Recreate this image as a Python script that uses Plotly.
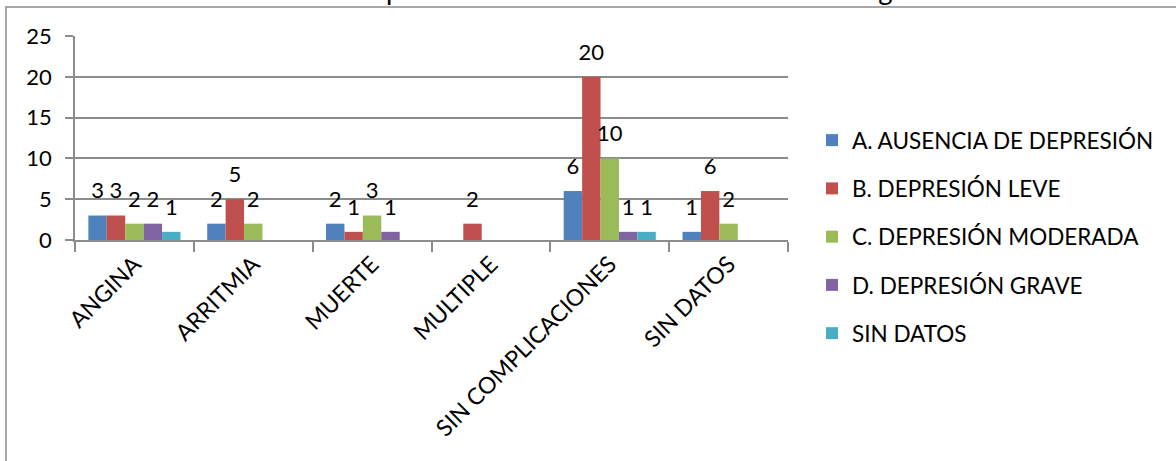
import plotly.graph_objects as go

# Complicaciones por nivel de depresión (escala de Zung)
categories = ["ANGINA", "ARRITMIA", "MUERTE", "MULTIPLE", "SIN COMPLICACIONES", "SIN DATOS"]
series_names = [
    "A. AUSENCIA DE DEPRESIÓN",
    "B. DEPRESIÓN LEVE",
    "C. DEPRESIÓN MODERADA",
    "D. DEPRESIÓN GRAVE",
    "SIN DATOS",
]
ausencia = [3, 2, 2, None, 6, 1]
leve = [3, 5, 1, 2, 20, 6]
moderada = [2, 2, 3, None, 10, 2]
grave = [2, None, 1, None, 1, None]
sin_datos = [1, None, None, None, 1, None]
series_values = [ausencia, leve, moderada, grave, sin_datos]
y_ticks = [0, 5, 10, 15, 20, 25]

colors = ["#4F81BD", "#C0504D", "#9BBB59", "#8064A2", "#4BACC6"]
FONT = "Lato"
TEXT = "#000000"
GRID = "#8C8C8C"

W, H = 1176, 461
L, R, T, B = 75, 388, 36, 221
pw, ph = W - L - R, H - T - B

fig = go.Figure()

for i, (name, vals) in enumerate(zip(series_names, series_values)):
    fig.add_trace(go.Bar(
        x=categories, y=vals, name=name,
        marker=dict(color=colors[i], line=dict(width=0)),
        offsetgroup=str(i), legendgroup=str(i),
        hoverinfo="skip",
    ))

# value labels floating above each bar
for i, vals in enumerate(series_values):
    fig.add_trace(go.Scatter(
        x=categories, y=vals, mode="markers+text",
        text=["" if v is None else str(v) for v in vals],
        textposition="top center",
        textfont=dict(family=FONT, size=22, color=TEXT),
        marker=dict(size=17, opacity=0),
        offsetgroup=str(i), showlegend=False, hoverinfo="skip",
        cliponaxis=False,
    ))

# outer chart frame
fig.add_shape(
    type="rect", xref="paper", yref="paper",
    x0=(6 - L) / pw, x1=(W + 10 - L) / pw,
    y0=(H - B - (H + 10)) / ph, y1=(H - B - 7) / ph,
    line=dict(color="#8C8C8C", width=1.5), fillcolor="rgba(0,0,0,0)", layer="below",
)

# heading above the frame
fig.add_annotation(
    text="Gráfico 10. Distribución de complicaciones de acuerdo a la escala de Zung",
    xref="paper", yref="paper", x=(2 - L) / pw, y=(H - B - 8.4) / ph,
    xanchor="left", yanchor="bottom", showarrow=False,
    font=dict(family=FONT, size=27.5, color=TEXT),
)

fig.update_layout(
    width=W, height=H,
    margin=dict(l=L, r=R, t=T, b=B),
    paper_bgcolor="white", plot_bgcolor="white",
    barmode="group", bargap=0.225, bargroupgap=0,
    scattermode="group", scattergap=0.225,
    font=dict(family=FONT, size=20, color=TEXT),
    showlegend=True,
    legend=dict(
        x=(812 - L) / pw, y=(H - B - 119) / ph, xanchor="left", yanchor="top",
        font=dict(family=FONT, size=22.5, color=TEXT),
        tracegroupgap=16, itemwidth=30, bgcolor="rgba(0,0,0,0)",
        maxheight=420,
    ),
)

fig.update_xaxes(
    type="category", tickangle=-45, tickson="boundaries",
    ticks="outside", ticklen=10, tickcolor=GRID, tickwidth=1.5,
    showline=True, linecolor=GRID, linewidth=1.5,
    showgrid=False, tickfont=dict(family=FONT, size=23, color=TEXT),
)
fig.update_yaxes(
    range=[0, 25], tickvals=y_ticks,
    ticks="outside", ticklen=8, tickcolor=GRID, tickwidth=1.5,
    showline=True, linecolor=GRID, linewidth=1.5,
    showgrid=True, gridcolor=GRID, gridwidth=1.5,
    zeroline=False, ticklabelstandoff=9,
    tickfont=dict(family=FONT, size=22, color=TEXT),
)

fig.write_html("out.html")
